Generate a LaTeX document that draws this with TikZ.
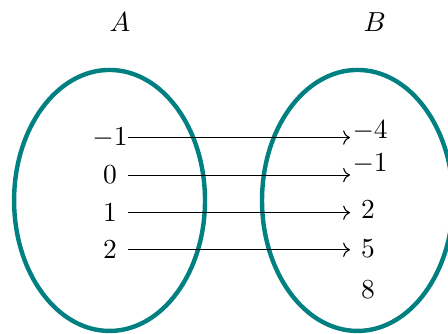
\documentclass[tikz,border=0pt]{standalone}
\usepackage{tikz}
\usetikzlibrary{arrows.meta}
\definecolor{setteal}{RGB}{0,128,128}

\begin{document}
\begin{tikzpicture}[x=1cm,y=1cm,
 setline/.style={draw=setteal,line width=1.6pt},
 elem/.style={inner sep=1pt},
 wire/.style={->}]
\useasboundingbox (0,0) rectangle (5.726,4.268);
\draw[setline] (1.40,1.706) ellipse [x radius=1.22,y radius=1.668];
\draw[setline] (4.569,1.706) ellipse [x radius=1.22,y radius=1.668];
\node (setA) at (1.534,3.99) {$A$};
\node (setB) at (4.79,3.99) {$B$};
\node[elem] (a1) at (1.406,2.51) {$-1$};
\node[elem] (a2) at (1.406,2.03) {$0$};
\node[elem] (a3) at (1.406,1.55) {$1$};
\node[elem] (a4) at (1.406,1.076) {$2$};
\node[elem] (b1) at (4.73,2.594) {$-4$};
\node[elem] (b2) at (4.73,2.17) {$-1$};
\node[elem] (b3) at (4.703,1.585) {$2$};
\node[elem] (b4) at (4.703,1.086) {$5$};
\node[elem] (b5) at (4.703,0.562) {$8$};
\coordinate (src) at (1.636,0);
\coordinate (dst) at (4.473,0);
\foreach \i in {1,...,4}
  \draw[wire] (a\i -| src) -- (a\i -| dst);
\end{tikzpicture}
\end{document}
